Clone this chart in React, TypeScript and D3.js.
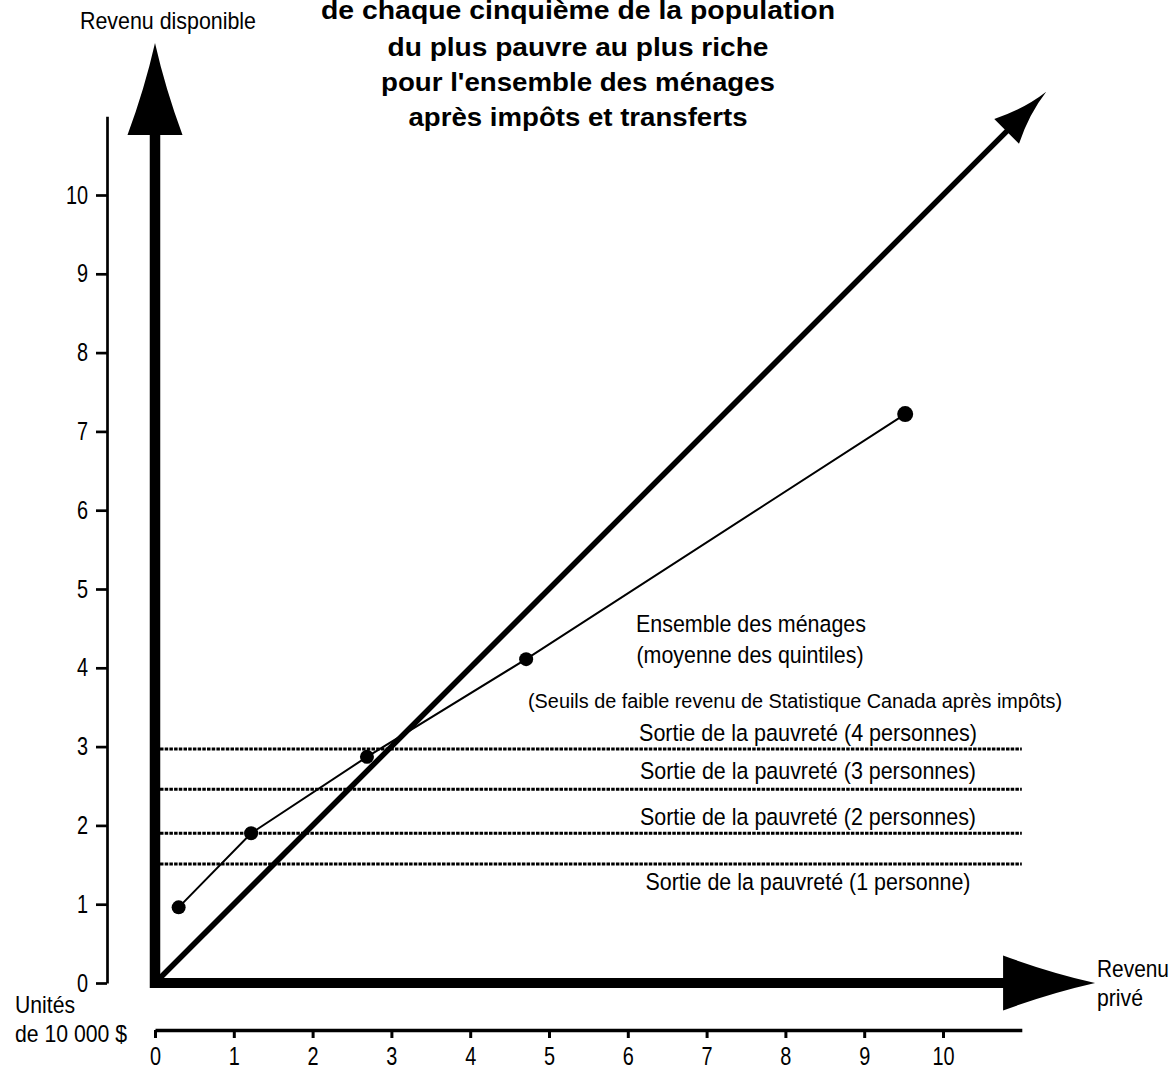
import React, { useEffect, useRef } from "react";
import * as d3 from "d3";

// ---- data ----
const TITLE_LINES = [
  "de chaque cinquième de la population",
  "du plus pauvre au plus riche",
  "pour l'ensemble des ménages",
  "après impôts et transferts",
];
const X_TICKS = [0, 1, 2, 3, 4, 5, 6, 7, 8, 9, 10];
const Y_TICKS = [0, 1, 2, 3, 4, 5, 6, 7, 8, 9, 10];
const QUINTILE_X = [0.3, 1.22, 2.69, 4.71, 9.52];
const QUINTILE_Y = [0.96, 1.9, 2.87, 4.11, 7.22];
const THRESHOLD_VALUES = [1.51, 1.9, 2.46, 2.97];
const THRESHOLD_LABELS = [
  "Sortie de la pauvreté (1 personne)",
  "Sortie de la pauvreté (2 personnes)",
  "Sortie de la pauvreté (3 personnes)",
  "Sortie de la pauvreté (4 personnes)",
];
const SERIES_LABEL = ["Ensemble des ménages", "(moyenne des quintiles)"];
const SOURCE_LABEL = "(Seuils de faible revenu de Statistique Canada après impôts)";
const Y_AXIS_TITLE = "Revenu disponible";
const X_AXIS_TITLE = ["Revenu", "privé"];
const UNIT_LABEL = ["Unités", "de 10 000 $"];

const W = 1173;
const H = 1070;
const FONT = "'Liberation Sans', Arial, Helvetica, sans-serif";

const x = d3.scaleLinear().domain([0, 10]).range([155, 943]);
const y = d3.scaleLinear().domain([0, 10]).range([983, 195]);

function arrowHead(tx: number, ty: number, ang: number, len: number, hw: number, concave: number) {
  const c = Math.cos(ang), s = Math.sin(ang);
  const bx = tx - len * c, by = ty - len * s;
  const px = -s, py = c;
  const c1x = bx + hw * px, c1y = by + hw * py;
  const c2x = bx - hw * px, c2y = by - hw * py;
  const m1x = (tx + c1x) / 2 - concave * hw * px, m1y = (ty + c1y) / 2 - concave * hw * py;
  const m2x = (tx + c2x) / 2 + concave * hw * px, m2y = (ty + c2y) / 2 + concave * hw * py;
  return `M${tx},${ty} Q${m1x},${m1y} ${c1x},${c1y} L${c2x},${c2y} Q${m2x},${m2y} ${tx},${ty} Z`;
}

function Label(props: any) {
  const { x: lx, y: ly, size, width, anchor = "middle", weight = "normal", children } = props;
  return (
    <text
      x={lx}
      y={ly}
      fontSize={size}
      fontWeight={weight}
      textAnchor={anchor}
      textLength={width}
      lengthAdjust="spacingAndGlyphs"
      fill="#000"
      fontFamily={FONT}
    >
      {children}
    </text>
  );
}

export default function App() {
  const leftRef = useRef<SVGGElement>(null);
  const bottomRef = useRef<SVGGElement>(null);

  useEffect(() => {
    const yAxisScale = y.copy().domain([0, 11]).range([y(0), y(11)]);
    const la = d3.axisLeft(yAxisScale).tickValues(Y_TICKS).tickSize(11).tickSizeOuter(0).tickPadding(8);
    const gl = d3.select(leftRef.current!);
    gl.call(la as any);
    gl.select(".domain").attr("stroke-width", 2.7);
    gl.selectAll(".tick line").attr("stroke-width", 2.7);
    gl.selectAll(".tick text")
      .attr("font-size", 25.5)
      .attr("font-family", FONT)
      .attr("fill", "#000")
      .attr("transform", "scale(0.78,1)")
      .attr("x", -19 / 0.78);

    const xAxisScale = x.copy().domain([0, 11]).range([x(0), x(11)]);
    const ba = d3.axisBottom(xAxisScale).tickValues(X_TICKS).tickSize(8).tickSizeOuter(0).tickPadding(9);
    const gb = d3.select(bottomRef.current!);
    gb.call(ba as any);
    gb.select(".domain").attr("stroke-width", 3.5);
    gb.selectAll(".tick line").attr("stroke-width", 3);
    gb.selectAll(".tick text")
      .attr("font-size", 25.5)
      .attr("font-family", FONT)
      .attr("fill", "#000")
      .attr("transform", "scale(0.78,1)")
      .attr("x", 0);
  }, []);

  const line = d3
    .line<number>()
    .x((_, i) => x(QUINTILE_X[i]))
    .y((d) => y(d));

  const ARROW_TIP = 11.93;
  const ARROW_LEN = 92;
  const ARROW_HW = 27.5;
  const DIAG_TIP = 11.31;
  const DIAG_LEN = 56;
  const DIAG_HW = 17.5;

  const diagTipX = x(DIAG_TIP), diagTipY = y(DIAG_TIP);
  const diagAng = Math.atan2(diagTipY - y(0), diagTipX - x(0));
  const diagBaseX = diagTipX - DIAG_LEN * Math.cos(diagAng);
  const diagBaseY = diagTipY - DIAG_LEN * Math.sin(diagAng);

  const titleWidths = [514, 381, 394, 339];
  const titleBase = [19, 56, 91, 126];
  const thresholdOffsets = [26, -8, -10, -8];
  const thresholdWidths = [325, 336, 336, 338];

  return (
    <svg width={W} height={H} style={{ position: "absolute", left: 0, top: 0, background: "#fff" }}>
      <rect x={0} y={0} width={W} height={H} fill="#fff" />

      {TITLE_LINES.map((t, i) => (
        <Label key={t} x={578} y={titleBase[i]} size={26} weight="bold" width={titleWidths[i]}>
          {t}
        </Label>
      ))}

      <Label x={168} y={29} size={24} width={176}>{Y_AXIS_TITLE}</Label>

      {/* thin reference axes */}
      <g ref={leftRef} transform="translate(107,0)" />
      <g ref={bottomRef} transform="translate(0,1030)" />

      {/* poverty thresholds */}
      {THRESHOLD_VALUES.map((v, i) => (
        <g key={i}>
          <line
            x1={x(0) + 5}
            x2={x(11)}
            y1={y(v)}
            y2={y(v)}
            stroke="#000"
            strokeWidth={3}
            strokeDasharray="3.5 1.2"
          />
          <Label x={808} y={y(v) + thresholdOffsets[i]} size={24.5} width={thresholdWidths[i]}>
            {THRESHOLD_LABELS[i]}
          </Label>
        </g>
      ))}

      <Label x={795} y={708} size={19.5} width={534}>{SOURCE_LABEL}</Label>
      <Label x={751} y={632} size={24.5} width={230}>{SERIES_LABEL[0]}</Label>
      <Label x={750} y={663} size={24.5} width={227}>{SERIES_LABEL[1]}</Label>

      {/* main thick axes */}
      <line x1={x(0)} x2={x(0)} y1={y(ARROW_TIP) + ARROW_LEN - 2} y2={y(0) + 5} stroke="#000" strokeWidth={10.5} />
      <line x1={x(0) - 5} x2={x(ARROW_TIP) - ARROW_LEN + 2} y1={y(0)} y2={y(0)} stroke="#000" strokeWidth={10} />
      <path d={arrowHead(x(0), y(ARROW_TIP), -Math.PI / 2, ARROW_LEN, ARROW_HW, 0.12)} fill="#000" />
      <path d={arrowHead(x(ARROW_TIP), y(0), 0, ARROW_LEN, ARROW_HW, 0.12)} fill="#000" />

      {/* 45-degree line */}
      <line x1={x(0)} y1={y(0)} x2={diagBaseX + 2} y2={diagBaseY - 2} stroke="#000" strokeWidth={5.5} />
      <path d={arrowHead(diagTipX, diagTipY, diagAng, DIAG_LEN, DIAG_HW, 0.3)} fill="#000" />

      {/* quintile series */}
      <path d={line(QUINTILE_Y) || ""} fill="none" stroke="#000" strokeWidth={2} />
      {QUINTILE_Y.map((v, i) => (
        <circle key={i} cx={x(QUINTILE_X[i])} cy={y(v)} r={i === QUINTILE_Y.length - 1 ? 8 : 7} fill="#000" />
      ))}

      <Label x={1097} y={977} size={24} width={72} anchor="start">{X_AXIS_TITLE[0]}</Label>
      <Label x={1097} y={1006} size={24} width={46} anchor="start">{X_AXIS_TITLE[1]}</Label>
      <Label x={15} y={1013} size={24} width={60} anchor="start">{UNIT_LABEL[0]}</Label>
      <Label x={15} y={1042} size={24} width={112} anchor="start">{UNIT_LABEL[1]}</Label>
    </svg>
  );
}
